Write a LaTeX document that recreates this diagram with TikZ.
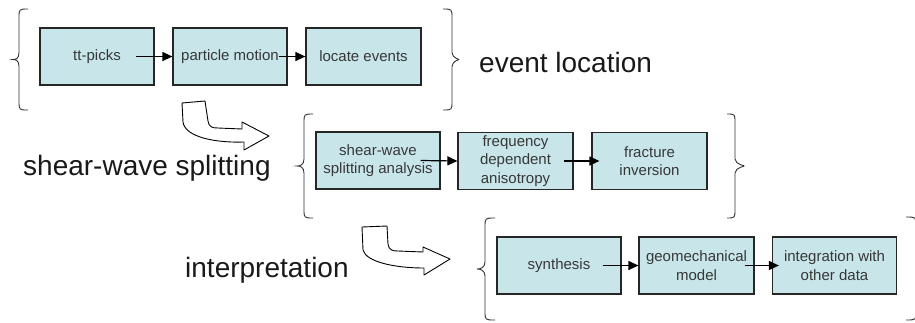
\documentclass[tikz,border=0pt]{standalone}
\usepackage{fontspec}
\setmainfont{Liberation Sans}
\usetikzlibrary{arrows.meta,calc}
\definecolor{boxfill}{RGB}{200,230,233}
\definecolor{boxtext}{RGB}{55,55,55}
\newcommand{\mybrace}[5]{%
  \draw[brc] (#1,#4) .. controls (#2,#4) .. (#2,{#4+9})
    -- (#2,{(#4+#5)/2-7}) .. controls (#2,{(#4+#5)/2-1}) and ({#3+3},{(#4+#5)/2}) .. (#3,{(#4+#5)/2})
    .. controls ({#3+3},{(#4+#5)/2}) and (#2,{(#4+#5)/2+1}) .. (#2,{(#4+#5)/2+7})
    -- (#2,{#5-9}) .. controls (#2,#5) .. (#1,#5);}
\begin{document}
\begin{tikzpicture}[x=1pt,y=-1pt,
  box/.style={draw=black!85,line width=1.2pt,fill=boxfill,text=boxtext,minimum height=57pt,inner sep=1pt,align=center,font=\fontsize{15}{18.5}\selectfont},
  link/.style={line width=1.2pt,-{Triangle[length=10pt,width=9pt]}},
  brc/.style={draw=black!80,line width=0.9pt},
  bendarrow/.style={draw=black,fill=white,line width=0.9pt,line join=round},
  big/.style={font=\fontsize{28}{34}\selectfont,inner sep=0pt,text=black!90}]
\clip (0,0) rectangle (915,322);
% row 1
\node[box,minimum width=114pt] (b1) at (97,56.5) {tt-picks};
\node[box,minimum width=114pt] (b2) at (230,56.5) {particle motion};
\node[box,minimum width=115pt] (b3) at (363.5,56.5) {locate events};
\draw[link] ($(b1.east)+(-19,0)$) -- (b2.west);
\draw[link] ($(b2.east)+(-9,0)$) -- (b3.west);
\mybrace{28}{19}{13}{9}{110}
\mybrace{443}{452}{458}{9}{110}
\node[big,anchor=base west] (lab1) at (479,72) {event location};
% bent arrow 1
\draw[bendarrow] (182,103) -- (205,101) -- (208,121) .. controls (209,127) and (212,128) .. (218,128)
  -- (242,129) -- (242,122) -- (269,136) -- (244,150) -- (244,142)
  .. controls (215,143) and (185,137) .. (183,122) -- cycle;
% row 2
\node[big,anchor=base west] (lab2) at (23,175) {shear-wave splitting};
\node[box,minimum width=124pt] (c1) at (378,160.5) {shear-wave\\splitting analysis};
\node[box,minimum width=115pt] (c2) at (515.5,161) {frequency\\dependent\\anisotropy};
\node[box,minimum width=115pt] (c3) at (649.5,161) {fracture\\inversion};
\draw[link] ($(c1.east)+(-20,0)$) -- (c2.west);
\draw[link] ($(c2.east)+(-10,0)$) -- ($(c3.west)+(8,0)$);
\mybrace{313}{304}{297}{114}{218}
\mybrace{727}{735}{744}{114}{218}
% bent arrow 2
\draw[bendarrow] (362,227) -- (387,226) -- (388,244) .. controls (389,250) and (392,251) .. (398,251)
  -- (423,252) -- (423,247) -- (450,259) -- (424,275) -- (424,268)
  .. controls (395,268) and (366,262) .. (363,250) -- cycle;
% row 3
\node[big,anchor=base west] (lab3) at (185,277) {interpretation};
\node[box,minimum width=124pt] (d1) at (559,265.5) {synthesis};
\node[box,minimum width=115pt] (d2) at (696.5,265.5) {geomechanical\\model};
\node[box,minimum width=124pt] (d3) at (834.5,265.5) {integration with\\other data};
\draw[link] ($(d1.east)+(-19,0)$) -- (d2.west);
\draw[link] ($(d2.east)+(-10,0)$) -- ($(d3.west)+(7,0)$);
\mybrace{495}{485}{477}{218}{320}
\mybrace{906}{916}{924}{217}{320}
\end{tikzpicture}
\end{document}
